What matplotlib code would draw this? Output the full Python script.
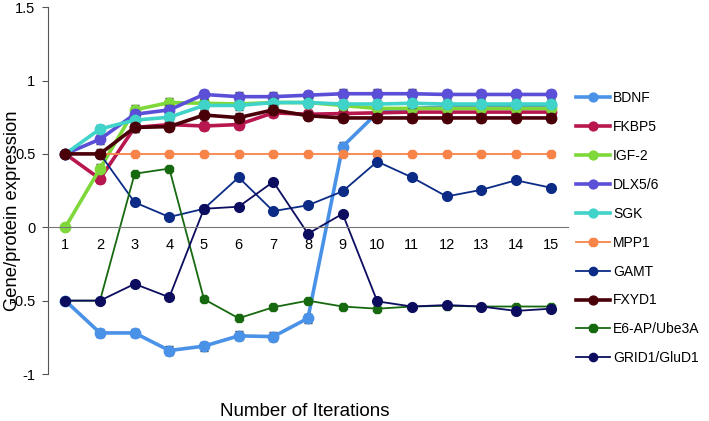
import matplotlib
matplotlib.use("Agg")
import matplotlib.pyplot as plt
import numpy as np

plt.rcParams["font.family"] = ["Liberation Sans", "DejaVu Sans"]

# Values
iterations = list(range(1, 16))
series_names = ["BDNF", "FKBP5", "IGF-2", "DLX5/6", "SGK", "MPP1",
                "GAMT", "FXYD1", "E6-AP/Ube3A", "GRID1/GluD1"]

bdnf = [-0.50, -0.72, -0.72, -0.84, -0.81, -0.74, -0.745, -0.62, 0.55, 0.78,
        0.81, 0.82, 0.83, 0.83, 0.83]
fkbp5 = [0.50, 0.33, 0.68, 0.70, 0.69, 0.70, 0.78, 0.77, 0.775, 0.78,
         0.785, 0.785, 0.785, 0.785, 0.785]
igf2 = [0.00, 0.40, 0.80, 0.85, 0.845, 0.84, 0.85, 0.85, 0.83, 0.81,
        0.81, 0.81, 0.81, 0.81, 0.81]
dlx56 = [0.50, 0.60, 0.77, 0.80, 0.905, 0.89, 0.89, 0.90, 0.91, 0.91,
         0.91, 0.905, 0.905, 0.905, 0.905]
sgk = [0.50, 0.67, 0.73, 0.75, 0.83, 0.83, 0.85, 0.85, 0.84, 0.84,
       0.845, 0.84, 0.84, 0.84, 0.84]
mpp1 = [0.50] * 15
gamt = [0.50, 0.50, 0.17, 0.07, 0.126, 0.34, 0.11, 0.15, 0.245, 0.448,
        0.34, 0.21, 0.255, 0.32, 0.27]
fxyd1 = [0.50, 0.50, 0.68, 0.686, 0.765, 0.747, 0.80, 0.76, 0.745, 0.745,
         0.745, 0.745, 0.745, 0.745, 0.745]
e6ap = [-0.50, -0.50, 0.365, 0.40, -0.49, -0.62, -0.545, -0.50, -0.54, -0.555,
        -0.54, -0.535, -0.54, -0.54, -0.54]
grid1 = [-0.50, -0.50, -0.386, -0.477, 0.126, 0.14, 0.31, -0.044, 0.092, -0.505,
         -0.54, -0.53, -0.54, -0.57, -0.555]

# error bar half-width on the thick series (iterations 2..15)
err_thick = 0.03

values = [bdnf, fkbp5, igf2, dlx56, sgk, mpp1, gamt, fxyd1, e6ap, grid1]
colors = ["#4a92e8", "#b8164e", "#7fd83a", "#5b4fd8", "#40d3c9", "#f8844a",
          "#0b2b86", "#4a0008", "#17690f", "#0c0d5f"]
thick = [True, True, True, True, True, False, False, True, False, False]

fig = plt.figure(figsize=(7.09, 4.21), dpi=100)
ax = fig.add_axes([0.0677, 0.1116, 0.801 - 0.0677, 0.983 - 0.1116])

handles = []
for name, vals, col, is_thick in zip(series_names, values, colors, thick):
    if is_thick:
        ax.errorbar(iterations[1:], vals[1:], yerr=err_thick, fmt="none",
                    ecolor="#333333", elinewidth=1.0, capsize=3, capthick=1.0)
        line, = ax.plot(iterations, vals, color=col, linewidth=2.6, marker="o",
                        markersize=7.5, label=name)
    else:
        mk = "8" if name in ("MPP1", "E6-AP/Ube3A") else "o"
        line, = ax.plot(iterations, vals, color=col, linewidth=1.3, marker=mk,
                        markersize=7, label=name)
    handles.append(line)

ax.set_xlim(0.5, 15.5)
ax.set_ylim(-1, 1.5)
ax.set_yticks([-1, -0.5, 0, 0.5, 1, 1.5])
ax.set_yticklabels(["-1", "-0.5", "0", "0.5", "1", "1.5"])
ax.set_xticks(iterations)
ax.tick_params(axis="x", length=0, pad=8, labelsize=10.5)
ax.tick_params(axis="y", length=4, width=0.8, pad=5, labelsize=10.5,
               color="#555555")

for side in ("top", "right"):
    ax.spines[side].set_visible(False)
ax.spines["left"].set_color("#555555")
ax.spines["bottom"].set_position(("data", 0))
ax.spines["bottom"].set_color("#777777")

ax.set_ylabel("Gene/protein expression", fontsize=13.2)
ax.yaxis.set_label_coords(-0.052, 0.445)
ax.set_xlabel("Number of Iterations", fontsize=13.5)
ax.xaxis.set_label_coords(0.494, -0.08)

ax.legend(handles=handles, loc="upper left", bbox_to_anchor=(0.812, 0.783),
          bbox_transform=fig.transFigure, frameon=False, fontsize=10,
          borderpad=0, borderaxespad=0, handlelength=2.5, handletextpad=0.2,
          labelspacing=1.07, markerscale=0.85)

fig.savefig("out.png", dpi=100)
